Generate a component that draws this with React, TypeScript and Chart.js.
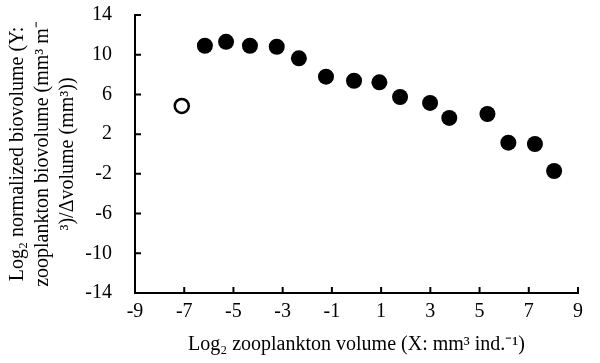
import React, { useEffect, useRef } from "react";
import { Chart, registerables } from "chart.js";

Chart.register(...registerables);

const openX = [-7.1];
const openY = [4.84];
const filledX = [-6.16, -5.3, -4.33, -3.24, -2.34, -1.24, -0.1, 0.93, 1.77, 2.99, 3.77, 5.32, 6.17, 7.25, 8.03];
const filledY = [10.9, 11.3, 10.9, 10.8, 9.64, 7.79, 7.38, 7.22, 5.74, 5.14, 3.63, 4.03, 1.14, 1.01, -1.71];
const xTicks = [-9, -7, -5, -3, -1, 1, 3, 5, 7, 9];
const yTicks = [-14, -10, -6, -2, 2, 6, 10, 14];
const xTitle = "Log₂ zooplankton volume (X: mm³ ind.⁻¹)";
const yTitle = ["Log₂ normalized biovolume (Y:", "zooplankton biovolume (mm³ m⁻", "³)/Δvolume (mm³))"];

const FONT = "'Liberation Serif', 'Times New Roman', serif";

const innerTicks = {
  id: "innerTicks",
  afterDatasetsDraw(chart: any) {
    const { ctx, scales } = chart;
    const xs = scales.x;
    const ys = scales.y;
    ctx.save();
    ctx.strokeStyle = "#000";
    ctx.lineWidth = 2;
    ctx.beginPath();
    xTicks.forEach((v) => {
      const px = xs.getPixelForValue(v);
      ctx.moveTo(px, ys.bottom);
      ctx.lineTo(px, ys.bottom - 6);
    });
    yTicks.forEach((v) => {
      const py = ys.getPixelForValue(v);
      ctx.moveTo(xs.left, py);
      ctx.lineTo(xs.left + 6, py);
    });
    ctx.stroke();
    ctx.restore();
  },
};

export default function App() {
  const ref = useRef<HTMLCanvasElement>(null);
  useEffect(() => {
    if (!ref.current) return;
    const chart = new Chart(ref.current, {
      type: "scatter",
      data: {
        datasets: [
          {
            data: filledX.map((x, i) => ({ x, y: filledY[i] })),
            backgroundColor: "#000",
            borderColor: "#000",
            borderWidth: 0,
            pointRadius: 8,
          },
          {
            data: openX.map((x, i) => ({ x, y: openY[i] })),
            backgroundColor: "#fff",
            borderColor: "#000",
            borderWidth: 2.5,
            pointRadius: 7,
          },
        ],
      },
      options: {
        animation: false,
        responsive: true,
        maintainAspectRatio: false,
        layout: { padding: { top: 15, right: 22, left: 0, bottom: 0 } },
        plugins: { legend: { display: false }, tooltip: { enabled: false } },
        scales: {
          x: {
            type: "linear",
            min: -9,
            max: 9,
            afterBuildTicks: (s: any) => {
              s.ticks = xTicks.map((v) => ({ value: v }));
            },
            afterFit: (s: any) => {
              s.height = 70;
              s.paddingLeft = 0;
              s.paddingRight = 0;
            },
            ticks: {
              color: "#000",
              font: { family: FONT, size: 20 },
              padding: 7,
              maxRotation: 0,
            },
            grid: { display: false, drawTicks: false },
            border: { display: true, color: "#000", width: 2 },
            title: {
              display: true,
              text: xTitle,
              color: "#000",
              font: { family: FONT, size: 20, lineHeight: 1.2 },
              padding: { top: 0, bottom: 6 },
            },
          },
          y: {
            type: "linear",
            min: -14,
            max: 14,
            afterBuildTicks: (s: any) => {
              s.ticks = yTicks.map((v) => ({ value: v }));
            },
            afterFit: (s: any) => {
              s.width = 135;
              s.paddingTop = 0;
              s.paddingBottom = 0;
            },
            ticks: {
              color: "#000",
              font: { family: FONT, size: 20 },
              padding: 23,
            },
            grid: { display: false, drawTicks: false },
            border: { display: true, color: "#000", width: 2 },
            title: {
              display: true,
              text: yTitle,
              color: "#000",
              font: { family: FONT, size: 20, lineHeight: 1.25 },
              padding: { top: 5, bottom: 0 },
            },
          },
        },
      },
      plugins: [innerTicks],
    });
    return () => chart.destroy();
  }, []);
  return (
    <div style={{ position: "fixed", left: 0, top: 0, width: 600, height: 363, background: "#fff" }}>
      <canvas ref={ref} />
    </div>
  );
}
